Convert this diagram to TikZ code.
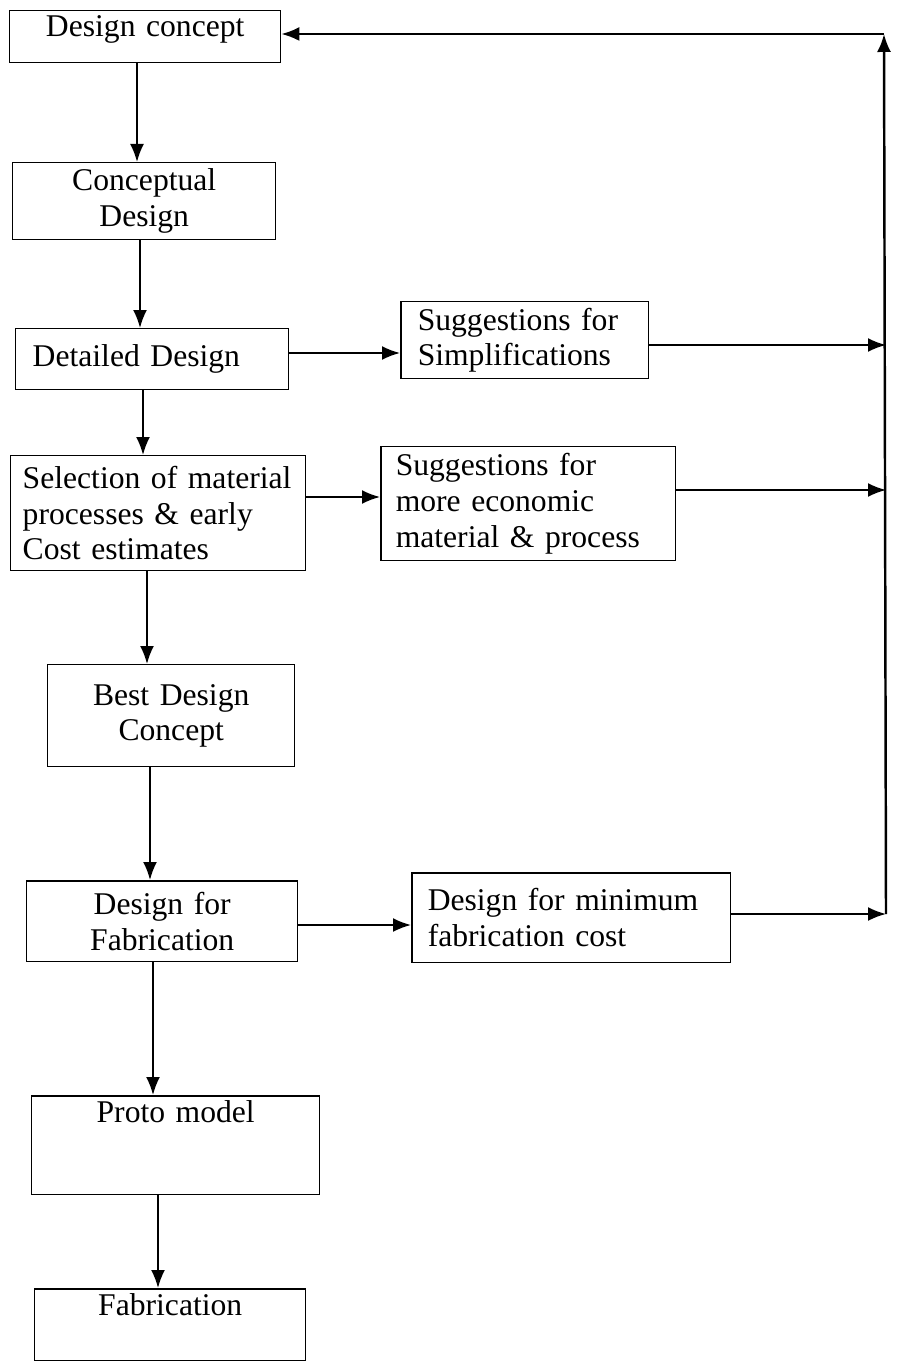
\documentclass[tikz,border=0pt]{standalone}
\usepackage{fontspec}
\setmainfont{Liberation Serif}
\usetikzlibrary{arrows.meta}
\hyphenpenalty=10000
\begin{document}
\begin{tikzpicture}[x=0.02cm,y=-0.02cm,
  stage/.style={draw, line width=0.85pt, anchor=north west, inner ysep=0.1cm, font=\fontsize{18}{20.3}\selectfont},
  mid/.style={stage, align=center, inner xsep=0.2cm},
  lft/.style={stage, align=left},
  flow/.style={line width=1.1pt, ->, >={Latex[length=3.6mm,width=2.8mm]}}]
\useasboundingbox (0,0) rectangle (900,1361);
\node[mid, text width=5.02cm, minimum height=1.04cm, text depth=0.42cm] (concept) at (9,10) {Design concept};
\node[mid, text width=4.86cm, minimum height=1.54cm] (conceptual) at (12,162) {Conceptual\\Design};
\node[lft, inner xsep=0.34cm, text width=4.78cm, minimum height=1.22cm] (detailed) at (15,328) {Detailed Design};
\node[lft, inner xsep=0.34cm, text width=4.28cm, minimum height=1.54cm] (simpl) at (400,301) {Suggestions for\\Simplifications};
\node[lft, inner xsep=0.24cm, text width=5.42cm, minimum height=2.3cm] (selection) at (10,455) {Selection of material\\processes \& early\\Cost estimates};
\node[lft, inner xsep=0.3cm, text width=5.3cm, minimum height=2.28cm] (economic) at (380,446) {Suggestions for\\more economic\\material \& process};
\node[mid, text width=4.54cm, minimum height=2.04cm] (best) at (47,664) {Best Design\\Concept};
\node[mid, text width=5.02cm, minimum height=1.62cm] (fabdesign) at (26,880) {Design for\\Fabrication};
\node[lft, inner xsep=0.32cm, text width=5.74cm, minimum height=1.8cm] (mincost) at (411,872) {Design for minimum\\fabrication cost};
\node[mid, text width=5.36cm, minimum height=1.98cm, text depth=1.34cm] (proto) at (31,1095) {Proto model};
\node[mid, text width=5.02cm, minimum height=1.44cm, text depth=0.8cm] (fabrication) at (34,1288) {Fabrication};
\coordinate (fbtop) at (884,34);
\coordinate (fbbot) at (886,914);
\draw[flow] (concept.south -| 137,0) -- (conceptual.north -| 137,0);
\draw[flow] (conceptual.south -| 140,0) -- (detailed.north -| 140,0);
\draw[flow] (detailed.south -| 143,0) -- (selection.north -| 143,0);
\draw[flow] (selection.south -| 147,0) -- (best.north -| 147,0);
\draw[flow] (best.south -| 150,0) -- (fabdesign.north -| 150,0);
\draw[flow] (fabdesign.south -| 153,0) -- (proto.north -| 153,0);
\draw[flow] (proto.south -| 158,0) -- (fabrication.north -| 158,0);
\draw[flow] (detailed.east |- 0,353) -- (simpl.west |- 0,353);
\draw[flow] (selection.east |- 0,497) -- (economic.west |- 0,497);
\draw[flow] (fabdesign.east |- 0,925) -- (mincost.west |- 0,925);
\draw[flow] (simpl.east |- 0,345) -- (fbbot |- 0,345);
\draw[flow] (economic.east |- 0,490) -- (fbbot |- 0,490);
\draw[flow] (mincost.east |- fbbot) -- (fbbot);
\draw[flow, line width=1.4pt] (fbbot) -- (fbtop);
\draw[flow] (fbtop) -- (concept.east |- fbtop);
\end{tikzpicture}
\end{document}
